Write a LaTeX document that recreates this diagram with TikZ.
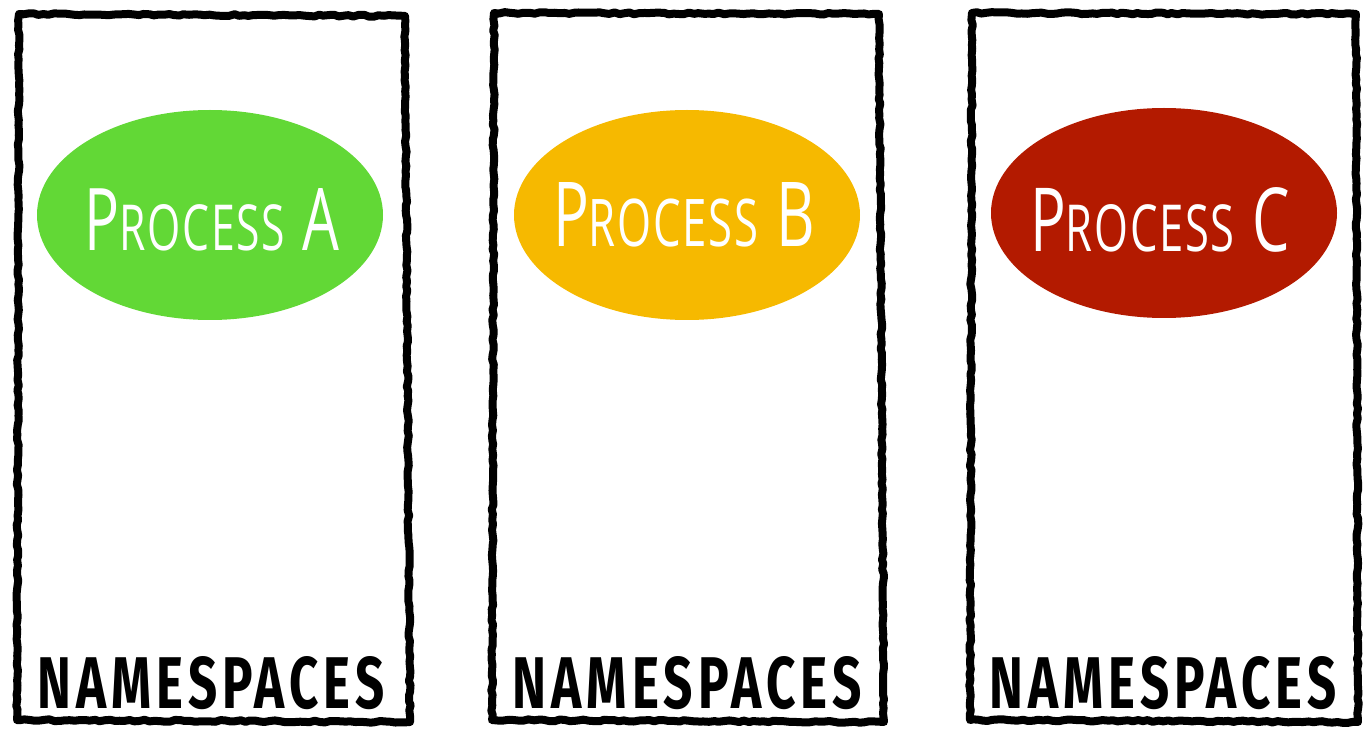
\documentclass[tikz,border=0pt]{standalone}
\usepackage{fontspec}
\usepackage{graphicx}
\usetikzlibrary{decorations.pathmorphing,shapes.geometric}
\newfontfamily\procfont[LetterSpace=4]{Open Sans}
\newfontfamily\nsfont[LetterSpace=10]{Fira Sans}
\definecolor{pgreen}{HTML}{62D836}
\definecolor{porange}{HTML}{F6B900}
\definecolor{pred}{HTML}{B31A00}
\tikzset{
  sketch/.style={draw=black, line width=8pt, line join=round, line cap=round,
    decorate, decoration={random steps, segment length=5pt, amplitude=0.9pt}},
  sketchthin/.style={draw=black, line width=3pt, line join=round, line cap=round,
    decorate, decoration={random steps, segment length=3pt, amplitude=1.4pt}},
  proc/.style={ellipse, minimum width=346pt, minimum height=210pt, inner sep=0pt},
  proclabel/.style={text=white, inner sep=0pt, font=\procfont},
  nslabel/.style={text=black, inner sep=0pt, font=\nsfont\bfseries}
}
\newcommand{\proctext}[1]{{\fontsize{60}{60}\selectfont P}{\fontsize{44}{44}\selectfont ROCESS}\kern 18pt{\fontsize{60}{60}\selectfont #1}}
\begin{document}
\begin{tikzpicture}[x=1pt,y=-1pt]
\useasboundingbox (0,0) rectangle (1363,735);
% boxes
\foreach \l/\t/\r/\b/\rb/\lb in {19/14/405/16/410/17, 494/13/879/14/884/492, 972/13/1356/14/1358/970}{
  \coordinate (tl) at (\l,\t);
  \coordinate (tr) at (\r,\b);
  \coordinate (br) at (\rb,722);
  \coordinate (bl) at (\lb,720);
  \path[sketch] (tl) -- (tr) -- (br) -- (bl) -- cycle;
  \path[sketchthin] (tl) -- (tr) -- (br) -- (bl) -- cycle;
}
% ellipses
\node[proc, fill=pgreen] (ea) at (210,215) {};
\node[proc, fill=porange] (eb) at (687,215) {};
\node[proc, fill=pred] (ec) at (1164,213) {};
% labels
\node[proclabel] (la) at (212,220) {\resizebox{255pt}{62pt}{\proctext{A}}};
\node[proclabel] (lb) at (684,215) {\resizebox{262pt}{64pt}{\proctext{B}}};
\node[proclabel] (lc) at (1160,220) {\resizebox{260pt}{64pt}{\proctext{C}}};
\node[nslabel] (na) at (211,683) {\resizebox{347pt}{52pt}{NAMESPACES}};
\node[nslabel] (nb) at (687,683) {\resizebox{349pt}{52pt}{NAMESPACES}};
\node[nslabel] (nc) at (1163,683) {\resizebox{347pt}{52pt}{NAMESPACES}};
\end{tikzpicture}
\end{document}
